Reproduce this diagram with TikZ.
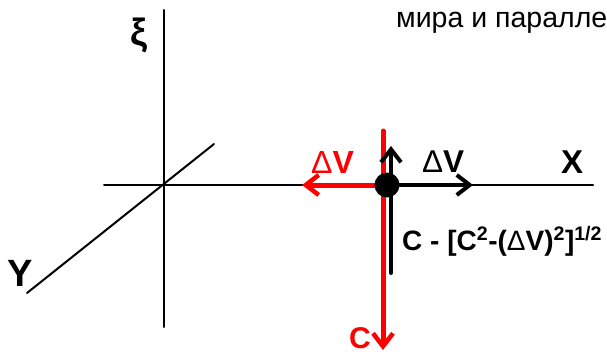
\documentclass[tikz,border=0pt]{standalone}
\usepackage{fontspec}
\setmainfont{Liberation Sans}
\usetikzlibrary{arrows.meta}
\begin{document}
\begin{tikzpicture}[x=1pt,y=-1pt,
  axis/.style={line width=2pt,line cap=round},
  vecblack/.style={line width=4.5pt,line cap=round,-{Straight Barb[length=13pt,width=20pt,line width=4pt]}},
  vecred/.style={line width=5pt,red,line cap=round,-{Straight Barb[length=13pt,width=20pt,line width=4.5pt]}},
  lbl/.style={inner sep=0pt,anchor=base west,font=\bfseries}]
\useasboundingbox (0,0) rectangle (607,353);
\clip (0,0) rectangle (607,353);
\fill[white] (0,0) rectangle (607,353);
% axes
\coordinate (vt) at (164,10);
\coordinate (vb) at (164,327);
\coordinate (hl) at (104,185);
\coordinate (hr) at (593,185);
\coordinate (yl) at (27,293);
\coordinate (yr) at (214,144);
\draw[axis] (vt) -- (vb);
\draw[axis] (hl) -- (hr);
\draw[axis] (yl) -- (yr);
% vectors
\coordinate (o) at (387,185);
\coordinate (redtop) at (383,131);
\coordinate (redbot) at (383,350);
\coordinate (redleft) at (302,185);
\coordinate (blkright) at (473,185);
\coordinate (blkup) at (391,146);
\coordinate (blkdown) at (391,273);
\coordinate (ored) at (383,185);
\coordinate (oblk) at (391,185);
\draw[vecred] (ored) -- (redleft);
\draw[vecred] (redtop) -- (redbot);
\draw[line width=4pt,line cap=round] (oblk) -- (blkdown);
\draw[vecblack] (o) -- (blkright);
\draw[vecblack] (oblk) -- (blkup);
\node[circle,fill=black,minimum size=25pt,inner sep=0pt] (dot) at (o) {};
% labels
\node[inner sep=0pt,font=\bfseries\fontsize{38}{38}\selectfont] (xi) at (139,35) {ξ};
\node[lbl,font=\bfseries\fontsize{38}{38}\selectfont] (ylab) at (7,286) {Y};
\node[lbl,font=\bfseries\fontsize{33}{33}\selectfont] (xlab) at (561,173) {X};
\node[lbl,font=\bfseries\fontsize{31.5}{31.5}\selectfont] (dvb) at (422,172) {{\mdseries Δ}V};
\node[lbl,red,font=\bfseries\fontsize{32}{32}\selectfont] (dvr) at (311,173) {{\mdseries Δ}V};
\node[lbl,red,font=\bfseries\fontsize{30}{30}\selectfont] (clab) at (349,348) {C};
\node[lbl,font=\bfseries\fontsize{28}{28}\selectfont] (form) at (402,250) {C - [C\textsuperscript{2}-({\mdseries Δ}V)\textsuperscript{2}]\textsuperscript{1/2}};
\node[inner sep=0pt,anchor=base west,font=\fontsize{28.5}{28.5}\selectfont] (top) at (396,28) {мира и паралле};
\end{tikzpicture}
\end{document}
